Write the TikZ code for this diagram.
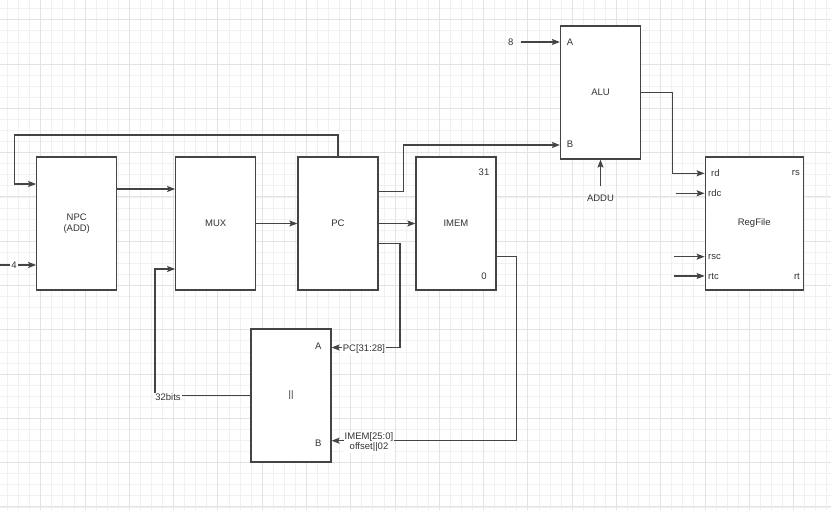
\documentclass[tikz,border=0pt]{standalone}
\usepackage{fontspec}
\setmainfont{Liberation Sans}
\usetikzlibrary{arrows.meta,calc}
\definecolor{ln}{HTML}{444444}
\definecolor{tx}{HTML}{333333}
\definecolor{gmin}{HTML}{F1F1F1}
\definecolor{gmaj}{HTML}{E3E3E3}
\begin{document}
\begin{tikzpicture}[x=1pt,y=-1pt,
  blk/.style={draw=ln,line width=1.2pt,fill=white,minimum width=80pt,minimum height=133pt,inner sep=0pt,font=\fontsize{9.5}{11}\selectfont,text=tx,align=center},
  lbl/.style={font=\fontsize{9.5}{11}\selectfont,text=tx,inner sep=1pt},
  wlbl/.style={lbl,fill=white,inner sep=1pt},
  wire/.style={draw=ln,line width=1.2pt},
  arr/.style={wire,-{Stealth[length=8pt,width=6pt,inset=1.5pt]}},
]
\useasboundingbox (0,0) rectangle (831,510);
\fill[white] (0,0) rectangle (831,510);
% grid
\foreach \i in {-3,...,71} \draw[gmin,line width=0.7pt] ({40.7+11.07*\i},0) -- ({40.7+11.07*\i},510);
\foreach \j in {-37,...,8} \draw[gmin,line width=0.7pt] (0,{418.3+11.07*\j}) -- (831,{418.3+11.07*\j});
\foreach \i in {0,...,17} \draw[gmaj,line width=0.8pt] ({40.7+44.28*\i},0) -- ({40.7+44.28*\i},510);
\foreach \j in {-9,...,2} \draw[gmaj,line width=0.8pt] (0,{418.3+44.28*\j}) -- (831,{418.3+44.28*\j});

% blocks
\node[blk] (npc) at (76.7,223.5) {NPC\\(ADD)};
\node[blk] (mux) at (215.7,223.5) {MUX};
\node[blk] (pc) at (338,223.5) {PC};
\node[blk] (imem) at (456,223.5) {IMEM};
\node[blk] (alu) at (600.5,92.5) {ALU};
\node[blk,minimum width=98pt] (rf) at (754.2,223.5) {RegFile};
\node[blk] (ii) at (291,395.5) {||};

% labels inside blocks
\node[lbl] (l31) at (484,172) {31};
\node[lbl] (l0) at (484,276) {0};
\node[lbl] (la) at (570,42) {A};
\node[lbl] (lb) at (570,144.5) {B};
\node[lbl,anchor=west] (lrd) at (710,173.3) {rd};
\node[lbl,anchor=west] (lrdc) at (707,193.3) {rdc};
\node[lbl,anchor=west] (lrsc) at (707,256.7) {rsc};
\node[lbl,anchor=west] (lrtc) at (707,276) {rtc};
\node[lbl,anchor=east] (lrs) at (801,173.3) {rs};
\node[lbl,anchor=east] (lrt) at (801,276) {rt};
\node[lbl] (iia) at (318.3,346.7) {A};
\node[lbl] (iib) at (318.3,443.3) {B};

% free ends
\node[lbl] (eight) at (510.7,42) {8};
\node[lbl] (addu) at (600.5,198) {ADDU};
\coordinate (in4) at (0,265);
\coordinate (irdc) at (676,193.3);
\coordinate (irsc) at (674,256.7);
\coordinate (irtc) at (674,276);

% wires
\draw[arr] ([yshift=34.5pt]npc.east) -- ([yshift=34.5pt]mux.west);
\draw[arr] (mux.east) -- (pc.west);
\draw[arr] (pc.east) -- (imem.west);
\draw[arr] ([yshift=31.8pt]pc.east) -- ++(24.7,0) |- ([yshift=-52.5pt]alu.west);
\draw[arr] (pc.north) |- (14.7,135) |- ([yshift=39.5pt]npc.west);
\draw[arr] (in4) -- ([yshift=-41.5pt]npc.west);
\node[wlbl] (l4) at (14,265) {4};
\draw[arr] ([yshift=-19.8pt]pc.east) -| (400,347.5) -- ([yshift=48pt]ii.east);
\node[wlbl] (lpc) at (364,349) {PC[31:28]};
\draw[arr] ([yshift=-33.2pt]imem.east) -| (516.7,440.7) -- ([yshift=-45.2pt]ii.east);
\node[wlbl,align=center] (limem) at (369,442.5) {IMEM[25:0]\\[-1pt]offset||02};
\draw[arr] (ii.west) -- (155,395.5) |- ([yshift=-45.5pt]mux.west);
\node[wlbl] (l32) at (168,397) {32bits};
\draw[arr] ([xshift=6pt]eight.east) -- ([yshift=50.5pt]alu.west);
\draw[arr] ([yshift=7pt]addu.north) -- (alu.south);
\draw[arr] (alu.east) -- (672.7,92.5) |- ([yshift=50.2pt]rf.west);
\draw[arr] (irdc) -- ([yshift=30.2pt]rf.west);
\draw[arr] (irsc) -- ([yshift=-33.2pt]rf.west);
\draw[arr] (irtc) -- ([yshift=-52.5pt]rf.west);
\end{tikzpicture}
\end{document}
